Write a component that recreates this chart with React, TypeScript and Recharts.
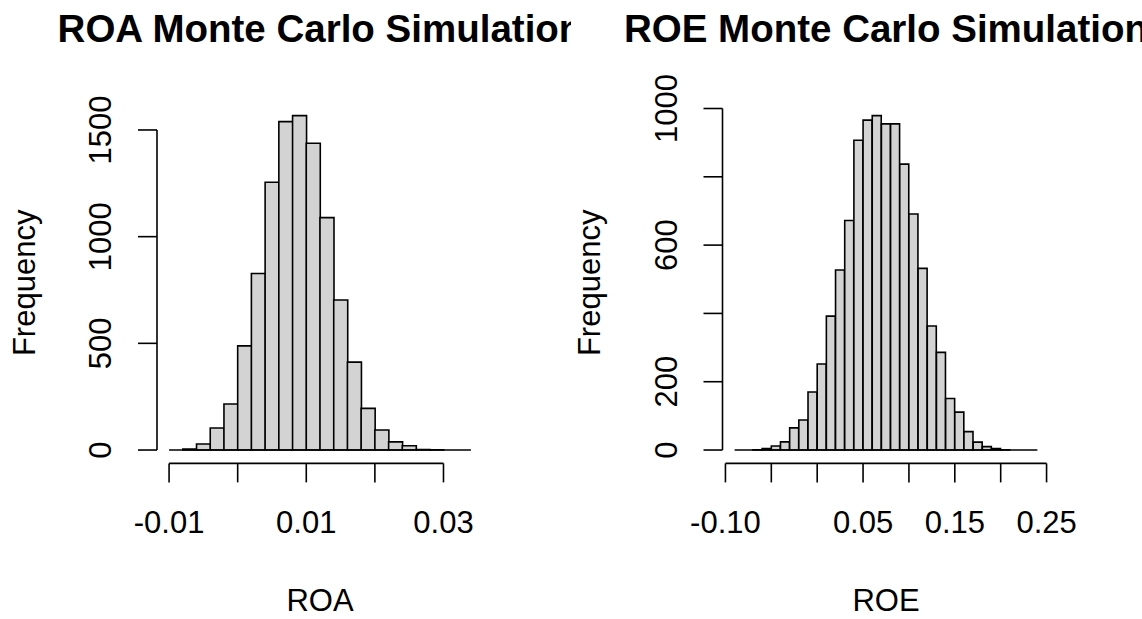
import { BarChart, Bar, XAxis, YAxis, ReferenceLine } from 'recharts';

// ROA histogram: bins of 0.002 from -0.01 to 0.034
const ROA_BIN_MIDS = [
  -0.009, -0.007, -0.005, -0.003, -0.001, 0.001, 0.003, 0.005, 0.007, 0.009, 0.011,
  0.013, 0.015, 0.017, 0.019, 0.021, 0.023, 0.025, 0.027, 0.029, 0.031, 0.033,
];
const ROA_COUNTS = [
  0, 5, 28, 103, 216, 488, 827, 1255, 1539, 1567, 1438, 1089, 703, 412, 195, 94, 38, 20, 2, 1,
  0, 0,
];
const ROA_BREAK_RANGE = [-0.01, 0.034];
const ROA_X_TICKS = [-0.01, 0, 0.01, 0.02, 0.03];
const ROA_X_LABELS = ['-0.01', '', '0.01', '', '0.03'];
const ROA_Y_TICKS = [0, 500, 1000, 1500];
const ROA_Y_LABELS = ['0', '500', '1000', '1500'];

// ROE histogram: bins of 0.01 from -0.09 to 0.24
const ROE_BIN_MIDS = [
  -0.085, -0.075, -0.065, -0.055, -0.045, -0.035, -0.025, -0.015, -0.005, 0.005, 0.015,
  0.025, 0.035, 0.045, 0.055, 0.065, 0.075, 0.085, 0.095, 0.105, 0.115, 0.125, 0.135,
  0.145, 0.155, 0.165, 0.175, 0.185, 0.195, 0.205, 0.215, 0.225, 0.235,
];
const ROE_COUNTS = [
  0, 0, 1, 4, 12, 24, 65, 88, 170, 252, 392, 527, 672, 907, 966, 979, 955, 955, 837, 691,
  532, 363, 286, 151, 111, 54, 23, 10, 4, 1, 0, 0, 0,
];
const ROE_BREAK_RANGE = [-0.09, 0.24];
const ROE_X_TICKS = [-0.1, -0.05, 0, 0.05, 0.1, 0.15, 0.2, 0.25];
const ROE_X_LABELS = ['-0.10', '', '', '0.05', '', '0.15', '', '0.25'];
const ROE_Y_TICKS = [0, 200, 400, 600, 800, 1000];
const ROE_Y_LABELS = ['0', '200', '', '600', '', '1000'];

const FONT = '"Liberation Sans", Arial, Helvetica, sans-serif';
const PANEL_W = 571;
const H = 619;
const PLOT_TOP = 102.3;
const PLOT_BOTTOM = 463.4;
const TICK_LEN = 19;
const LINE = '#000';
const LW = 1.6;

function HistPanel({
  title,
  xLabel,
  mids,
  counts,
  breakRange,
  xTicks,
  xLabels,
  yTicks,
  yLabels,
  plotLeft,
  plotRight,
}: {
  title: string;
  xLabel: string;
  mids: number[];
  counts: number[];
  breakRange: number[];
  xTicks: number[];
  xLabels: string[];
  yTicks: number[];
  yLabels: string[];
  plotLeft: number;
  plotRight: number;
}) {
  const data = mids.map((mid, i) => ({ mid, count: counts[i] }));
  // R pads each axis range by 4%
  const span = breakRange[1] - breakRange[0];
  const xDomain = [breakRange[0] - 0.04 * span, breakRange[1] + 0.04 * span];
  const maxCount = Math.max(...counts);
  const yDomain = [-0.04 * maxCount, 1.04 * maxCount];
  const centerX = (plotLeft + plotRight) / 2;
  const centerY = (PLOT_TOP + PLOT_BOTTOM) / 2;

  const renderXTick = (props: any) => {
    const i = xTicks.findIndex((t) => Math.abs(t - props.payload.value) < 1e-9);
    const text = xLabels[i];
    if (!text) return <g />;
    return (
      <text x={props.x} y={props.y + 50.6} textAnchor="middle" fontSize={31} fill="#000" fontFamily={FONT}>
        {text}
      </text>
    );
  };

  const renderYTick = (props: any) => {
    const i = yTicks.findIndex((t) => t === props.payload.value);
    const text = yLabels[i];
    if (!text) return <g />;
    const x = props.x - 26.5;
    return (
      <text
        x={x}
        y={props.y}
        transform={`rotate(-90 ${x} ${props.y})`}
        textAnchor="middle"
        fontSize={31}
        fill="#000"
        fontFamily={FONT}
      >
        {text}
      </text>
    );
  };

  return (
    <div style={{ width: PANEL_W, height: H, overflow: 'hidden', position: 'relative' }}>
      <BarChart
        width={PANEL_W}
        height={H}
        data={data}
        margin={{ top: PLOT_TOP, right: PANEL_W - plotRight, bottom: 0, left: 0 }}
        barCategoryGap={0}
        barGap={0}
      >
        <XAxis
          dataKey="mid"
          type="number"
          domain={xDomain}
          allowDataOverflow
          ticks={xTicks}
          interval={0}
          height={H - PLOT_BOTTOM}
          axisLine={false}
          tickSize={TICK_LEN}
          tickMargin={0}
          tickLine={{ stroke: LINE, strokeWidth: LW }}
          tick={renderXTick}
        />
        <YAxis
          type="number"
          domain={yDomain}
          allowDataOverflow
          ticks={yTicks}
          interval={0}
          width={plotLeft}
          axisLine={false}
          tickSize={TICK_LEN}
          tickMargin={0}
          tickLine={{ stroke: LINE, strokeWidth: LW }}
          tick={renderYTick}
        />
        <Bar dataKey="count" fill="#d3d3d3" stroke={LINE} strokeWidth={LW} isAnimationActive={false} />
        <ReferenceLine
          segment={[
            { x: breakRange[0], y: 0 },
            { x: breakRange[1], y: 0 },
          ]}
          stroke={LINE}
          strokeWidth={LW}
          ifOverflow="visible"
        />
        <ReferenceLine
          segment={[
            { x: xTicks[0], y: yDomain[0] },
            { x: xTicks[xTicks.length - 1], y: yDomain[0] },
          ]}
          stroke={LINE}
          strokeWidth={LW}
          ifOverflow="visible"
        />
        <ReferenceLine
          segment={[
            { x: xDomain[0], y: yTicks[0] },
            { x: xDomain[0], y: yTicks[yTicks.length - 1] },
          ]}
          stroke={LINE}
          strokeWidth={LW}
          ifOverflow="visible"
        />
        <text x={centerX} y={42} textAnchor="middle" fontSize={38.5} fontWeight="bold" fill="#000" fontFamily={FONT}>
          {title}
        </text>
        <text x={centerX} y={611} textAnchor="middle" fontSize={31} fill="#000" fontFamily={FONT}>
          {xLabel}
        </text>
        <text
          x={plotLeft - 122}
          y={centerY}
          transform={`rotate(-90 ${plotLeft - 122} ${centerY})`}
          textAnchor="middle"
          fontSize={31}
          fill="#000"
          fontFamily={FONT}
        >
          Frequency
        </text>
      </BarChart>
    </div>
  );
}

export default function App() {
  return (
    <div
      style={{
        position: 'absolute',
        left: 0,
        top: 0,
        width: 1142,
        height: H,
        background: '#fff',
        display: 'flex',
      }}
    >
      <HistPanel
        title="ROA Monte Carlo Simulation"
        xLabel="ROA"
        mids={ROA_BIN_MIDS}
        counts={ROA_COUNTS}
        breakRange={ROA_BREAK_RANGE}
        xTicks={ROA_X_TICKS}
        xLabels={ROA_X_LABELS}
        yTicks={ROA_Y_TICKS}
        yLabels={ROA_Y_LABELS}
        plotLeft={157}
        plotRight={483}
      />
      <HistPanel
        title="ROE Monte Carlo Simulation"
        xLabel="ROE"
        mids={ROE_BIN_MIDS}
        counts={ROE_COUNTS}
        breakRange={ROE_BREAK_RANGE}
        xTicks={ROE_X_TICKS}
        xLabels={ROE_X_LABELS}
        yTicks={ROE_Y_TICKS}
        yLabels={ROE_Y_LABELS}
        plotLeft={151.5}
        plotRight={478.5}
      />
    </div>
  );
}
